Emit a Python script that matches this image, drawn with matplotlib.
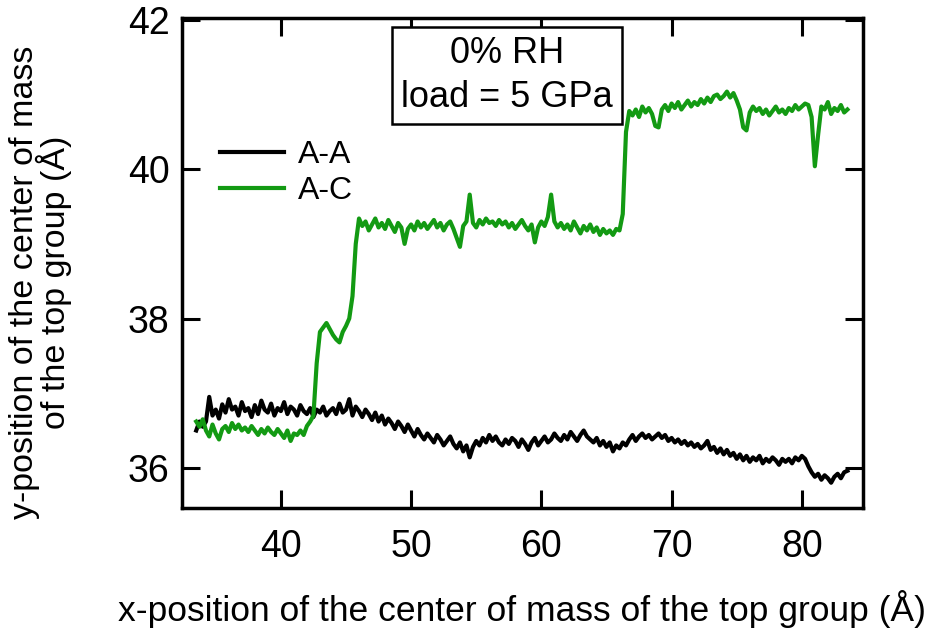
import numpy as np
import matplotlib
matplotlib.use("Agg")
import matplotlib.pyplot as plt

plt.rcParams['font.family'] = ['Liberation Sans', 'DejaVu Sans']

# sample positions along x (Å), every 0.25 Å from 33.5 to 83.5
x_pos = np.arange(33.5, 83.5001, 0.25)

aa_values = [
    36.50, 36.62,
    36.55, 36.62, 36.95, 36.70, 36.78, 36.66, 36.85, 36.74, 36.92, 36.78,
    36.82, 36.70, 36.88, 36.76, 36.80, 36.68, 36.84, 36.72, 36.90, 36.78,
    36.74, 36.86, 36.70, 36.80, 36.76, 36.88, 36.72, 36.82, 36.78, 36.70,
    36.84, 36.76, 36.72, 36.80, 36.68, 36.78, 36.74, 36.82, 36.70, 36.76,
    36.80, 36.72, 36.86, 36.74, 36.78, 36.92, 36.70, 36.82, 36.76, 36.68,
    36.78, 36.72, 36.64, 36.74, 36.62, 36.70, 36.58, 36.66, 36.60, 36.52,
    36.62, 36.56, 36.48, 36.58, 36.50, 36.42, 36.52, 36.44, 36.38, 36.46,
    36.40, 36.34, 36.44, 36.38, 36.30, 36.36, 36.42, 36.32, 36.26, 36.34,
    36.22, 36.30, 36.14, 36.28, 36.36, 36.30, 36.40, 36.34, 36.44, 36.36,
    36.42, 36.34, 36.30, 36.38, 36.32, 36.40, 36.36, 36.28, 36.38, 36.32,
    36.24, 36.34, 36.40, 36.30, 36.36, 36.42, 36.34, 36.38, 36.46, 36.40,
    36.36, 36.44, 36.38, 36.48, 36.42, 36.36, 36.44, 36.50, 36.42, 36.38,
    36.34, 36.40, 36.30, 36.36, 36.28, 36.34, 36.22, 36.30, 36.26, 36.34,
    36.30, 36.38, 36.44, 36.36, 36.42, 36.46, 36.40, 36.44, 36.38, 36.42,
    36.46, 36.40, 36.44, 36.36, 36.40, 36.34, 36.38, 36.32, 36.36, 36.30,
    36.34, 36.28, 36.32, 36.26, 36.30, 36.36, 36.24, 36.28, 36.20, 36.26,
    36.18, 36.24, 36.16, 36.20, 36.12, 36.18, 36.10, 36.16, 36.08, 36.14,
    36.10, 36.16, 36.06, 36.12, 36.08, 36.14, 36.10, 36.04, 36.12, 36.08,
    36.12, 36.06, 36.14, 36.10, 36.16, 36.12, 36.02, 35.94, 35.88, 35.92,
    35.84, 35.90, 35.86, 35.80, 35.88, 35.92, 35.86, 35.94, 35.96,
]

ac_values = [
    36.62, 36.55,
    36.65, 36.50, 36.42, 36.58, 36.46, 36.38, 36.52, 36.56, 36.48, 36.60,
    36.52, 36.58, 36.50, 36.54, 36.48, 36.56, 36.50, 36.44, 36.52, 36.46,
    36.54, 36.48, 36.44, 36.52, 36.46, 36.40, 36.50, 36.36, 36.46, 36.44,
    36.50, 36.44, 36.56, 36.62, 36.70, 37.40, 37.82, 37.88, 37.94, 37.86,
    37.78, 37.72, 37.68, 37.82, 37.90, 38.00, 38.30, 39.00, 39.34, 39.24,
    39.30, 39.18, 39.26, 39.34, 39.22, 39.28, 39.20, 39.32, 39.24, 39.16,
    39.28, 39.22, 39.00, 39.20, 39.26, 39.18, 39.30, 39.22, 39.28, 39.20,
    39.26, 39.32, 39.22, 39.28, 39.18, 39.26, 39.30, 39.20, 39.08, 38.96,
    39.24, 39.30, 39.66, 39.28, 39.22, 39.32, 39.26, 39.34, 39.28, 39.30,
    39.24, 39.32, 39.26, 39.30, 39.22, 39.28, 39.20, 39.26, 39.32, 39.24,
    39.18, 39.26, 39.02, 39.22, 39.30, 39.24, 39.36, 39.66, 39.30, 39.22,
    39.28, 39.20, 39.26, 39.18, 39.30, 39.22, 39.14, 39.24, 39.18, 39.26,
    39.16, 39.22, 39.12, 39.20, 39.14, 39.18, 39.12, 39.20, 39.18, 39.40,
    40.50, 40.78, 40.72, 40.80, 40.70, 40.84, 40.76, 40.82, 40.74, 40.58,
    40.56, 40.80, 40.86, 40.78, 40.88, 40.82, 40.90, 40.80, 40.86, 40.92,
    40.84, 40.90, 40.86, 40.94, 40.88, 40.96, 40.90, 40.98, 41.00, 40.94,
    40.98, 41.04, 40.96, 41.02, 40.92, 40.80, 40.56, 40.52, 40.76, 40.84,
    40.78, 40.82, 40.74, 40.80, 40.72, 40.78, 40.84, 40.76, 40.80, 40.74,
    40.82, 40.78, 40.86, 40.80, 40.84, 40.88, 40.86, 40.70, 40.04, 40.46,
    40.84, 40.80, 40.90, 40.74, 40.82, 40.78, 40.86, 40.76, 40.80,
]

series_labels = ["A-A", "A-C"]
x_ticks = [40, 50, 60, 70, 80]
y_ticks = [36, 38, 40, 42]
annotation = "0% RH\nload = 5 GPa"
x_label = "x-position of the center of mass of the top group (Å)"
y_label = "y-position of the center of mass\nof the top group (Å)"

fig = plt.figure(figsize=(9.28, 6.32), dpi=100)
ax = fig.add_axes([0.196, 0.196, 0.734, 0.776])

ax.plot(x_pos, aa_values, color="black", lw=3.0, label=series_labels[0])
ax.plot(x_pos, ac_values, color="#139a13", lw=3.0, label=series_labels[1])

ax.set_xlim(32.4, 84.7)
ax.set_ylim(35.46, 42.03)
ax.set_xticks(x_ticks)
ax.set_yticks(y_ticks)

for s in ax.spines.values():
    s.set_linewidth(2.5)

ax.tick_params(direction='in', length=13, width=2.2, top=True, right=True,
               labeltop=False, labelright=False, labelsize=27)
ax.tick_params(axis='x', pad=15)
ax.tick_params(axis='y', pad=9)

ax.set_xlabel(x_label, fontsize=25.5, labelpad=18)
ax.set_ylabel(y_label, fontsize=24.5, multialignment='center', linespacing=0.85)
ax.yaxis.set_label_coords(-0.162, 0.46)

leg = ax.legend(loc='upper left', bbox_to_anchor=(0.056, 0.75), frameon=False,
                fontsize=23, handlelength=2.0, handletextpad=0.45,
                labelspacing=0.18, borderpad=0, borderaxespad=0)

ax.text(0.477, 0.882, annotation, transform=ax.transAxes, ha='center', va='center',
        fontsize=26, linespacing=1.35, multialignment='center',
        bbox=dict(boxstyle='square,pad=0.25', fc='white', ec='black', lw=1.8))

fig.savefig("out.png", dpi=100)
